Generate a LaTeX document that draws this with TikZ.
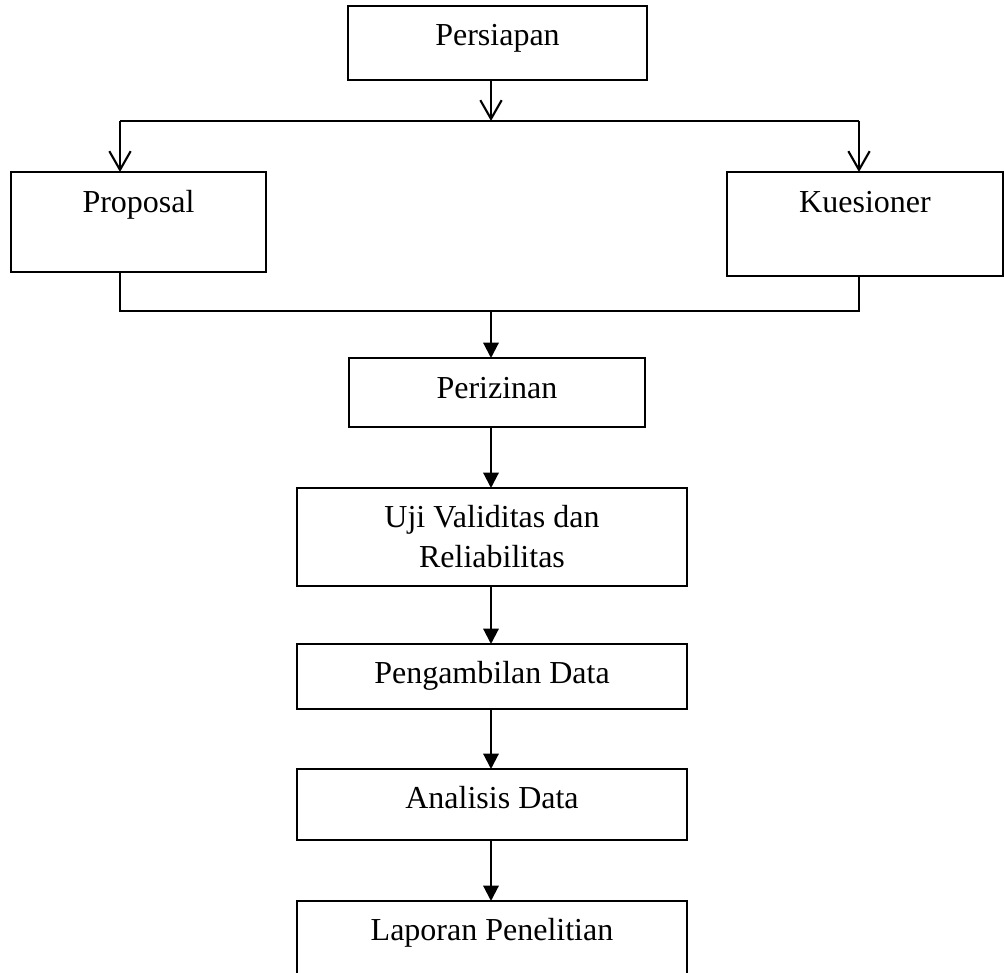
\documentclass[tikz,border=0pt]{standalone}
\usepackage{fontspec}
\setmainfont{Liberation Serif}
\usetikzlibrary{arrows.meta}
\begin{document}
\begin{tikzpicture}[x=0.75pt,y=-0.75pt,
  font=\fontsize{24}{30}\selectfont,
  box/.style={draw, line width=1.1pt, rectangle, inner xsep=0pt, inner ysep=0pt, outer sep=0pt, align=center},
  conn/.style={line width=1.6pt},
  openarrow/.style={conn, -{Straight Barb[length=14pt,width=16pt,line width=1.6pt]}},
  fillarrow/.style={conn, -{Triangle[length=11.5pt,width=11.5pt]}}]
\useasboundingbox (0,0) rectangle (1004,973);

\node[box, minimum width=299*0.75pt, text height=30pt, text depth=25.5pt] (persiapan) at (497.5,43) {Persiapan};
\node[box, minimum width=255*0.75pt, text height=30.75pt, text depth=44.25pt] (proposal) at (138.5,222) {Proposal};
\node[box, minimum width=276*0.75pt, text height=30.75pt, text depth=47.25pt] (kuesioner) at (865,224) {Kuesioner};
\node[box, minimum width=296*0.75pt, text height=30.75pt, text depth=21pt] (perizinan) at (497,392.5) {Perizinan};
\node[box, minimum width=390*0.75pt, minimum height=98*0.75pt] (uji) at (492,537) {Uji Validitas dan\\Reliabilitas};
\node[box, minimum width=390*0.75pt, text height=29.25pt, text depth=19.5pt] (pengambilan) at (492,676.5) {Pengambilan Data};
\node[box, minimum width=390*0.75pt, text height=29.25pt, text depth=24pt] (analisis) at (492,804.5) {Analisis Data};
\node[box, minimum width=390*0.75pt, text height=29.25pt, text depth=33.75pt] (laporan) at (492,943) {Laporan Penelitian};

\coordinate (split) at (491,121);
\coordinate (lft) at (120,121);
\coordinate (rgt) at (859,121);
\coordinate (join) at (491,311);
\coordinate (lb) at (120,311);
\coordinate (rb) at (859,311);

\draw[openarrow] (persiapan.south -| split) -- (split);
\draw[conn] (lft) -- (rgt);
\draw[openarrow] (lft) -- (lft |- proposal.north);
\draw[openarrow] (rgt) -- (rgt |- kuesioner.north);

\draw[conn] (lb |- proposal.south) -- (lb) -- (rb) -- (rb |- kuesioner.south);
\draw[fillarrow] (join) -- (join |- perizinan.north);

\draw[fillarrow] (perizinan.south -| join) -- (uji.north -| join);
\draw[fillarrow] (uji.south -| join) -- (pengambilan.north -| join);
\draw[fillarrow] (pengambilan.south -| join) -- (analisis.north -| join);
\draw[fillarrow] (analisis.south -| join) -- (laporan.north -| join);
\end{tikzpicture}
\end{document}
